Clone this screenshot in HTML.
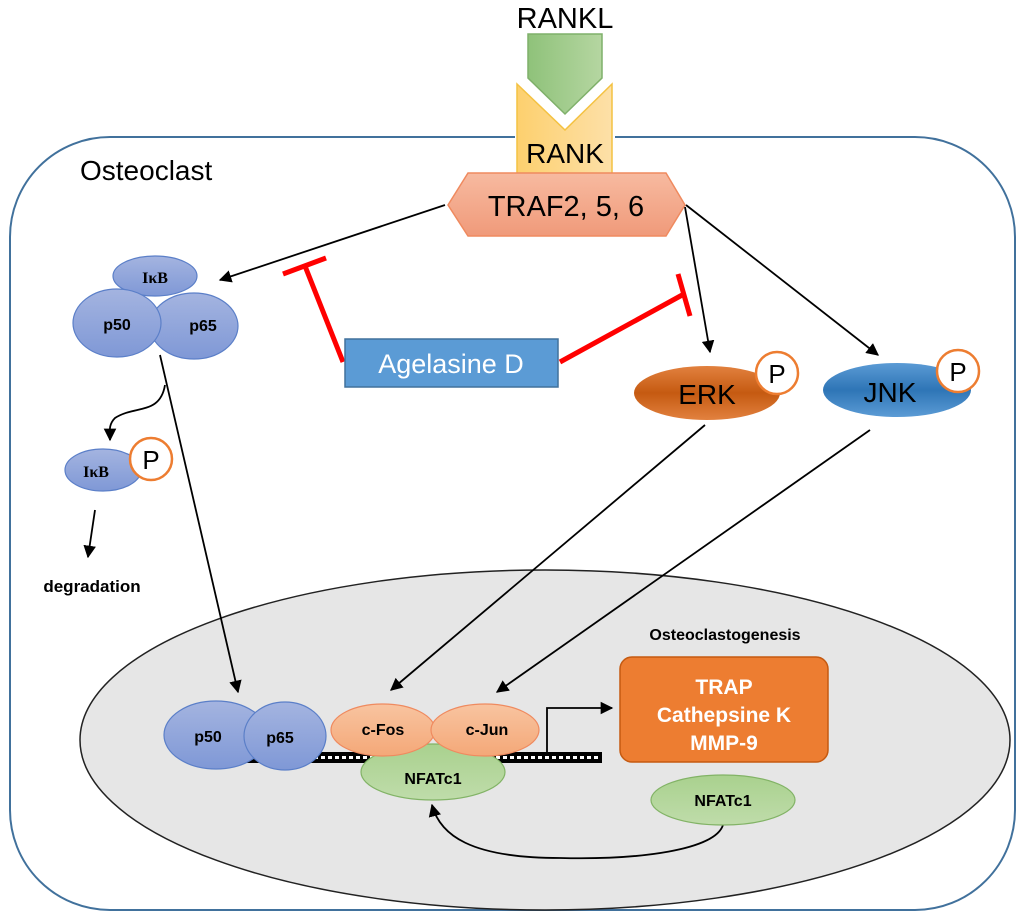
<!DOCTYPE html>
<html><head><meta charset="utf-8"><style>
html,body{margin:0;padding:0;background:#fff;}
svg{display:block;font-family:"Liberation Sans",sans-serif;}
</style></head><body>
<svg width="1024" height="919" viewBox="0 0 1024 919" xmlns="http://www.w3.org/2000/svg">
<defs>
<marker id="a" viewBox="0 0 10 10" refX="9" refY="5" markerWidth="7" markerHeight="7" orient="auto-start-reverse"><path d="M0,0L10,5L0,10z" fill="#000"/></marker>
<linearGradient id="gGreen" x1="0" x2="1"><stop offset="0" stop-color="#8fc27a"/><stop offset="1" stop-color="#b5d6a1"/></linearGradient>
<linearGradient id="gRank" x1="0" x2="1"><stop offset="0" stop-color="#fdd06e"/><stop offset="1" stop-color="#fde0a8"/></linearGradient>
<linearGradient id="gTraf" x1="0" y1="0" x2="0" y2="1"><stop offset="0" stop-color="#f7baa0"/><stop offset="1" stop-color="#f09a7a"/></linearGradient>
<linearGradient id="gBlue" x1="0" y1="0" x2="0" y2="1"><stop offset="0" stop-color="#a4b4e0"/><stop offset="1" stop-color="#7f98d6"/></linearGradient>
<linearGradient id="gErk" x1="0" y1="0" x2="0" y2="1"><stop offset="0" stop-color="#e2813f"/><stop offset="0.5" stop-color="#c55a11"/><stop offset="1" stop-color="#e2813f"/></linearGradient>
<linearGradient id="gJnk" x1="0" y1="0" x2="0" y2="1"><stop offset="0" stop-color="#5b9bd5"/><stop offset="0.5" stop-color="#2e75b6"/><stop offset="1" stop-color="#5b9bd5"/></linearGradient>
<linearGradient id="gOr" x1="0" y1="0" x2="0" y2="1"><stop offset="0" stop-color="#f8c4a0"/><stop offset="1" stop-color="#f4a878"/></linearGradient>
<linearGradient id="gNf" x1="0" y1="0" x2="0" y2="1"><stop offset="0" stop-color="#a9d18e"/><stop offset="1" stop-color="#bfdcaa"/></linearGradient>
</defs>
<rect x="10" y="137" width="1005" height="773" rx="100" fill="#fff" stroke="#41719c" stroke-width="2"/>
<text x="80" y="180" font-size="28">Osteoclast</text>
<!-- nucleus -->
<ellipse cx="545" cy="740" rx="465" ry="170" fill="#e6e6e6" stroke="#222" stroke-width="1.5"/>
<!-- RANKL / RANK -->
<text x="565" y="28" font-size="29" text-anchor="middle">RANKL</text>
<rect x="515" y="130" width="100" height="12" fill="#fff"/>
<path d="M517,84 L565,130 L612,84 L612,175 L517,175z" fill="url(#gRank)" stroke="#f4c242" stroke-width="1.5"/>
<path d="M528,34 L602,34 L602,78 L565,114 L528,78z" fill="url(#gGreen)" stroke="#7fb06a" stroke-width="1.5"/>
<text x="565" y="163" font-size="28" text-anchor="middle">RANK</text>
<path d="M468,173 L666,173 L685,205 L666,236 L468,236 L448,205z" fill="url(#gTraf)" stroke="#ef8a5f" stroke-width="1.5"/>
<text x="566" y="216" font-size="29" text-anchor="middle">TRAF2, 5, 6</text>
<!-- arrows from TRAF -->
<g stroke="#000" stroke-width="1.8" fill="none">
<line x1="445" y1="205" x2="220" y2="280" marker-end="url(#a)"/>
<line x1="685" y1="207" x2="710" y2="352" marker-end="url(#a)"/>
<line x1="686" y1="205" x2="878" y2="355" marker-end="url(#a)"/>
<line x1="160" y1="355" x2="238" y2="692" marker-end="url(#a)"/>
<path d="M165,385 C160,415 135,405 115,418 C108,425 110,432 110,440" marker-end="url(#a)"/>
<line x1="95" y1="510" x2="88" y2="557" marker-end="url(#a)"/>
<line x1="705" y1="425" x2="391" y2="690" marker-end="url(#a)"/>
<line x1="870" y1="430" x2="497" y2="692" marker-end="url(#a)"/>
<path d="M547,752 L547,708 L612,708" marker-end="url(#a)"/>
<path d="M723,825 C715,850 640,860 560,858 C470,858 440,835 432,805" marker-end="url(#a)"/>
</g>
<!-- red inhibition -->
<g stroke="#f00" stroke-width="5" fill="none">
<line x1="343" y1="362" x2="305" y2="266"/>
<line x1="283" y1="274" x2="326" y2="258"/>
<line x1="560" y1="362" x2="684" y2="294"/>
<line x1="678" y1="274" x2="690" y2="316"/>
</g>
<rect x="345" y="339" width="213" height="48" fill="#5b9bd5" stroke="#41719c" stroke-width="1.5"/>
<text x="451" y="373" font-size="27" fill="#fff" text-anchor="middle">Agelasine D</text>
<!-- IkB complex -->
<g stroke="#5b7fc8" stroke-width="1.2" fill="url(#gBlue)">
<ellipse cx="155" cy="276" rx="42" ry="20"/>
<ellipse cx="194" cy="326" rx="44" ry="33"/>
<ellipse cx="117" cy="323" rx="44" ry="34"/>
<ellipse cx="103" cy="470" rx="38" ry="21"/>
</g>
<g font-weight="bold" font-size="16" text-anchor="middle">
<text x="155" y="283" font-family="Liberation Serif,serif">IκB</text>
<text x="117" y="330">p50</text>
<text x="203" y="331">p65</text>
<text x="96" y="477" font-family="Liberation Serif,serif">IκB</text>
</g>
<circle cx="151" cy="459" r="21" fill="#fff" stroke="#ed7d31" stroke-width="2.5"/>
<text x="151" y="469" font-size="26" text-anchor="middle">P</text>
<text x="92" y="592" font-size="17" font-weight="bold" text-anchor="middle">degradation</text>
<!-- ERK / JNK -->
<ellipse cx="707" cy="393" rx="73" ry="27" fill="url(#gErk)"/>
<text x="707" y="404" font-size="28" text-anchor="middle">ERK</text>
<circle cx="777" cy="373" r="21" fill="#fff" stroke="#ed7d31" stroke-width="2.5"/>
<text x="777" y="383" font-size="26" text-anchor="middle">P</text>
<ellipse cx="897" cy="390" rx="74" ry="27" fill="url(#gJnk)"/>
<text x="890" y="402" font-size="28" text-anchor="middle">JNK</text>
<circle cx="958" cy="371" r="21" fill="#fff" stroke="#ed7d31" stroke-width="2.5"/>
<text x="958" y="381" font-size="26" text-anchor="middle">P</text>
<!-- nucleus content -->
<text x="725" y="640" font-size="16" font-weight="bold" text-anchor="middle">Osteoclastogenesis</text>
<rect x="620" y="657" width="208" height="105" rx="12" fill="#ed7d31" stroke="#c55a11" stroke-width="1.5"/>
<g fill="#fff" font-weight="bold" font-size="21" text-anchor="middle">
<text x="724" y="694">TRAP</text><text x="724" y="722">Cathepsine K</text><text x="724" y="750">MMP-9</text>
</g>
<ellipse cx="723" cy="800" rx="72" ry="25" fill="url(#gNf)" stroke="#82b366" stroke-width="1.2"/>
<text x="723" y="806" font-size="16" font-weight="bold" text-anchor="middle">NFATc1</text>
<!-- DNA -->
<rect x="228" y="752" width="374" height="11" fill="#000"/>
<line x1="230" y1="757.5" x2="600" y2="757.5" stroke="#fff" stroke-width="3" stroke-dasharray="4,3"/>
<g stroke="#5b7fc8" stroke-width="1.2" fill="url(#gBlue)">
<ellipse cx="216" cy="735" rx="52" ry="34"/>
<ellipse cx="285" cy="736" rx="41" ry="34"/>
</g>
<ellipse cx="433" cy="772" rx="72" ry="28" fill="url(#gNf)" stroke="#82b366" stroke-width="1.2"/>
<ellipse cx="383" cy="730" rx="52" ry="26" fill="url(#gOr)" stroke="#ef8a5f" stroke-width="1.2"/>
<ellipse cx="485" cy="730" rx="54" ry="26" fill="url(#gOr)" stroke="#ef8a5f" stroke-width="1.2"/>
<g font-weight="bold" font-size="16" text-anchor="middle">
<text x="208" y="742">p50</text><text x="280" y="743">p65</text>
<text x="383" y="735">c-Fos</text><text x="487" y="735">c-Jun</text>
<text x="433" y="784">NFATc1</text>
</g>
</svg>
</body></html>
